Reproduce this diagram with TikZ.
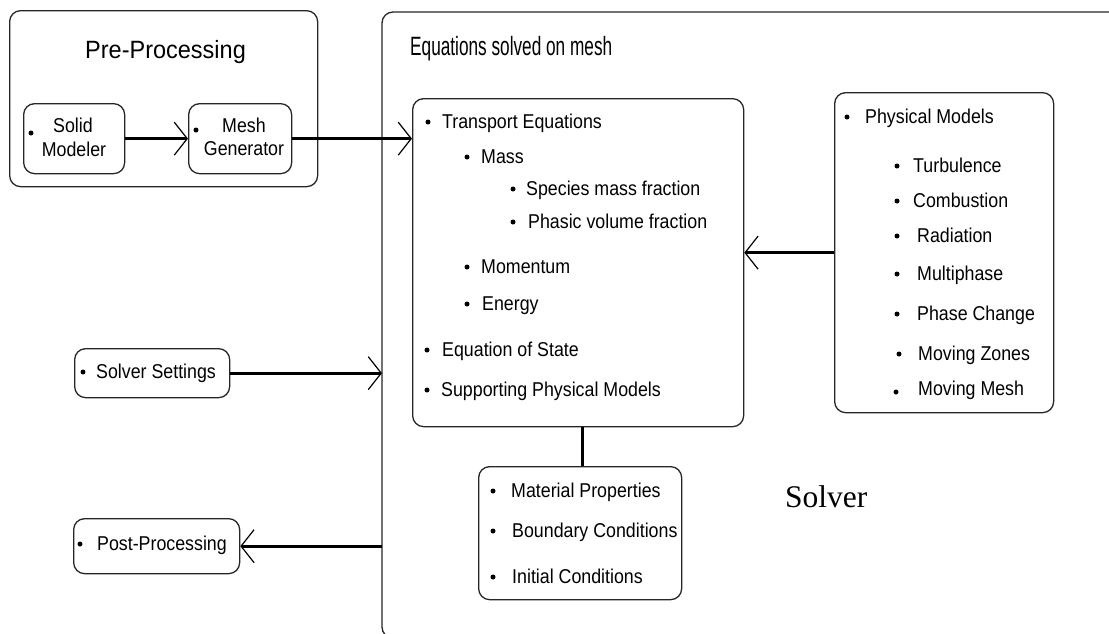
\documentclass[tikz,border=0pt]{standalone}
\usepackage{fontspec}
\setmainfont{Liberation Sans}
\newfontfamily\bodyfont[FakeStretch=0.89]{Liberation Sans}
\newfontfamily\prefont[FakeStretch=0.94]{Liberation Sans}
\newfontfamily\eqfont[FakeStretch=0.65]{Liberation Sans}
\newfontfamily\capfont{Liberation Serif}
\usetikzlibrary{arrows.meta}

% one bulleted line: name, bullet x, text x, baseline y, text
\newcommand\itm[5]{%
  \fill (#2,#4-6) circle[radius=2.5];
  \node[item] (#1) at (#3,#4) {#5};}

\begin{document}
\begin{tikzpicture}[x=1pt,y=-1pt,
  box/.style={draw=black!85, line width=1.3pt, rounded corners=11pt,
    inner sep=0pt, anchor=north west},
  conn/.style={line width=3pt},
  arr/.style={conn, -{Straight Barb[length=13pt,width=33pt,line width=1.2pt]}},
  item/.style={font=\bodyfont\fontsize{20}{24}\selectfont, inner sep=0pt, anchor=base west},
  ctr/.style={item, anchor=base},
]
\useasboundingbox (0,0) rectangle (1109,633);
\fill[white] (0,0) rectangle (1109,633);
\clip (0,0) rectangle (1109,633);

% solver frame: only its left side lies inside the page
\draw[draw=black!85, line width=1.3pt, rounded corners=11pt]
  (1130,12) -- (382,12) -- (382,638) -- (1130,638);
\coordinate (solverleft) at (382,320);

% frames
\node[box, minimum width=308pt, minimum height=176pt] (pre) at (9,10) {};
\node[box, minimum width=101pt, minimum height=70pt] (solidbox) at (23,103) {};
\node[box, minimum width=103pt, minimum height=70pt] (meshbox) at (188,103) {};
\node[box, minimum width=331pt, minimum height=328pt] (trans) at (412,98) {};
\node[box, minimum width=219pt, minimum height=320pt] (phys) at (834,92) {};
\node[box, minimum width=203pt, minimum height=133pt] (mat) at (478,466) {};
\node[box, minimum width=155pt, minimum height=49pt] (setbox) at (74,348) {};
\node[box, minimum width=166pt, minimum height=55pt] (postbox) at (73,518) {};

% titles
\node[inner sep=0pt, anchor=base west, font=\prefont\fontsize{25}{30}\selectfont]
  (pretitle) at (85,58) {Pre-Processing};
\node[inner sep=0pt, anchor=base west, font=\eqfont\fontsize{26.5}{30}\selectfont]
  (eqtitle) at (410,55) {Equations solved on mesh};
\node[inner sep=0pt, anchor=base west, font=\capfont\fontsize{31.5}{36}\selectfont]
  (solvertitle) at (785,507) {Solver};

% pre-processing tools
\fill (31,133) circle[radius=2.5];
\node[ctr] (solidA) at (73,132) {Solid};
\node[ctr] (solidB) at (74,156) {Modeler};
\fill (196,130) circle[radius=2.5];
\node[ctr] (meshA) at (244,132) {Mesh};
\node[ctr] (meshB) at (244,155) {Generator};

% transport equations
\itm{te}{428}{442}{128}{Transport Equations}
\itm{ms}{467}{481}{163}{Mass}
\itm{sp}{513}{526}{195}{Species mass fraction}
\itm{ph}{513}{528}{228}{Phasic volume fraction}
\itm{mo}{467}{481}{273}{Momentum}
\itm{en}{467}{482}{310}{Energy}
\itm{eos}{427}{442}{356}{Equation of State}
\itm{spm}{427}{441}{396}{Supporting Physical Models}

% physical models
\itm{pm}{847}{865}{123}{Physical Models}
\itm{tu}{897}{913}{172}{Turbulence}
\itm{co}{897}{913}{207}{Combustion}
\itm{ra}{897}{917}{242}{Radiation}
\itm{mp}{897}{917}{280}{Multiphase}
\itm{pc}{897}{917}{320}{Phase Change}
\itm{mz}{899}{918}{360}{Moving Zones}
\fill (896,392) circle[radius=2.5];
\node[item] (mm) at (918,395) {Moving Mesh};

% material data
\itm{mat1}{493}{511}{497}{Material Properties}
\itm{mat2}{493}{512}{537}{Boundary Conditions}
\itm{mat3}{493}{512}{583}{Initial Conditions}

% solver settings and post-processing
\itm{ss}{83}{96}{378}{Solver Settings}
\itm{pp}{80}{97}{550}{Post-Processing}

% connectors
\draw[arr] (solidbox.east) -- (meshbox.west);
\draw[arr] (meshbox.east) -- (meshbox.east -| trans.west);
\draw[arr] (phys.west) -- (phys.west -| trans.east);
\draw[arr] (setbox.east) -- (setbox.east -| solverleft);
\draw[arr] (postbox.east -| solverleft) -- (postbox.east);
\draw[conn] ([xshift=2.5pt]mat.north) -- ([xshift=2.5pt]mat.north |- trans.south);
\end{tikzpicture}
\end{document}
